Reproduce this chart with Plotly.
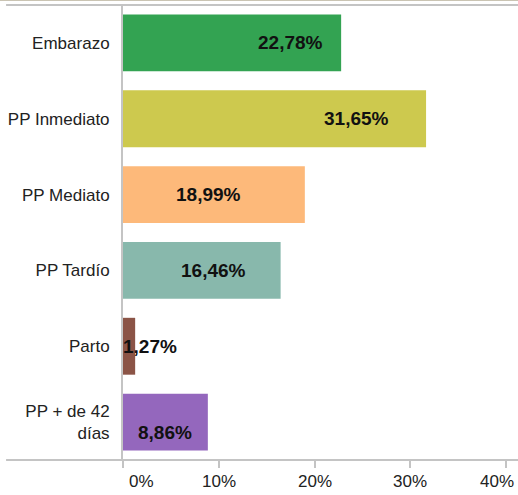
import plotly.graph_objects as go

# data
categorias = ["Embarazo", "PP Inmediato", "PP Mediato", "PP Tardío", "Parto", "PP + de 42<br>días"]
porcentajes = [22.78, 31.65, 18.99, 16.46, 1.27, 8.86]
etiquetas = ["22,78%", "31,65%", "18,99%", "16,46%", "1,27%", "8,86%"]
colores = ["#33A352", "#CDC94E", "#FDB97A", "#88B8AC", "#8B5446", "#9467BD"]
# where each value label sits along the bar (as in the original)
pos_etiqueta = [17.5, 24.4, 8.9, 9.4, 2.8, 4.4]
desplaz_y = [0, 0, 0, 0, 0, -10]

ticks_x = [0, 10, 20, 30, 40]
ticks_txt = ["0%", "10%", "20%", "30%", "40%"]

GRIS = "#C4C4C4"
FUENTE = "Liberation Sans, Arial"

fig = go.Figure()

fig.add_trace(
	go.Bar(
		x=porcentajes,
		y=categorias,
		orientation="h",
		marker=dict(color=colores, line=dict(width=0)),
		width=0.75,
		hoverinfo="skip",
	)
)

# value labels
for cat, xpos, txt, dy in zip(categorias, pos_etiqueta, etiquetas, desplaz_y):
	fig.add_annotation(
		x=xpos, y=cat, text="<b>" + txt + "</b>",
		showarrow=False, yshift=dy,
		font=dict(family=FUENTE, size=19, color="#111111"),
	)

# x tick labels: the first and last ones are pulled inward like in the original
for i, (tv, tt) in enumerate(zip(ticks_x, ticks_txt)):
	if i == 0:
		anc, dx = "left", 4
	elif i == len(ticks_x) - 1:
		anc, dx = "right", 10
	else:
		anc, dx = "center", 0
	fig.add_annotation(
		x=tv, xref="x", y=0, yref="paper", text=tt,
		showarrow=False, xanchor=anc, yanchor="middle", xshift=dx, yshift=-21,
		font=dict(family=FUENTE, size=17, color="#222222"),
	)

# frame lines (top tan line, top gray line, bottom gray line)
fig.add_shape(type="line", xref="paper", yref="paper", x0=-0.32, x1=1.0, y0=1.0115, y1=1.0115,
	line=dict(color="#B8B09A", width=2))
fig.add_shape(type="line", xref="paper", yref="paper", x0=-0.296, x1=1.0, y0=1.0, y1=1.0,
	line=dict(color=GRIS, width=2))
fig.add_shape(type="line", xref="paper", yref="paper", x0=-0.296, x1=1.0, y0=0, y1=0,
	line=dict(color=GRIS, width=2))

fig.update_xaxes(
	range=[0, 41.25],
	tickvals=ticks_x,
	showticklabels=False,
	ticks="outside",
	ticklen=7,
	tickwidth=2,
	tickcolor=GRIS,
	showgrid=False,
	zeroline=False,
	showline=False,
	automargin=False,
)
fig.update_yaxes(
	autorange="reversed",
	showgrid=False,
	zeroline=False,
	showline=True,
	linecolor=GRIS,
	linewidth=2,
	ticks="",
	automargin=False,
	ticklabelstandoff=8,
	tickfont=dict(family=FUENTE, size=17, color="#222222"),
)

fig.update_layout(
	width=518,
	height=495,
	margin=dict(l=123, r=0, t=5, b=35),
	plot_bgcolor="white",
	paper_bgcolor="white",
	showlegend=False,
	bargap=0.25,
)

# page body has a default 8px margin; drop it so the chart sits at the corner
fig.write_html("out.html", config={"displayModeBar": False},
	post_script="document.body.style.margin='0';")
